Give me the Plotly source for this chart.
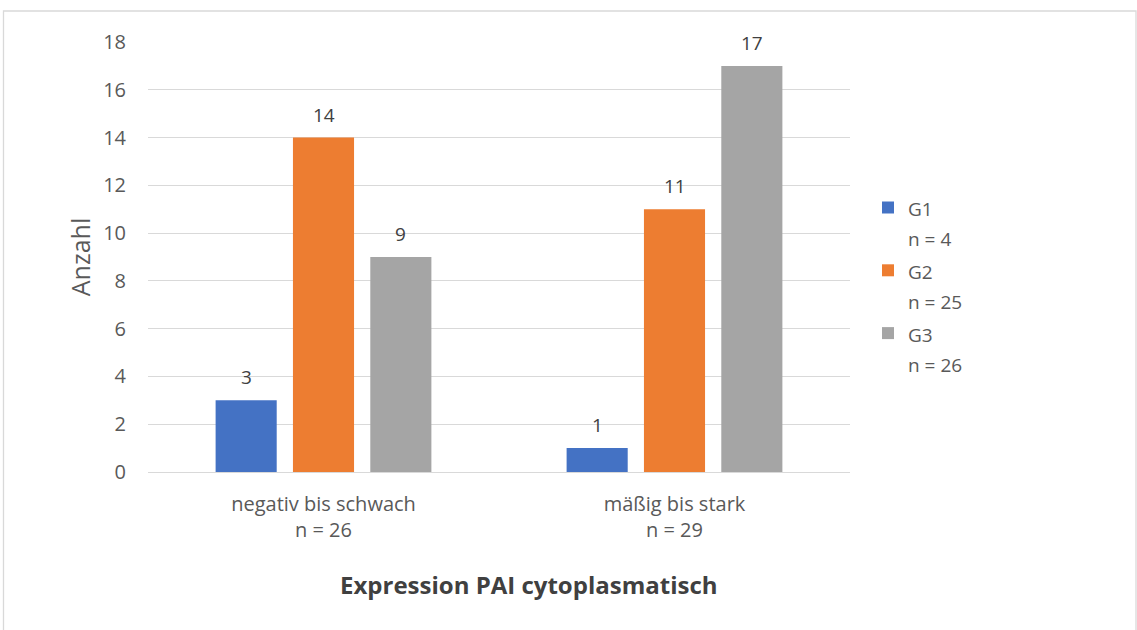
import plotly.graph_objects as go

categories = ["negativ bis schwach<br>n = 26", "mäßig bis stark<br>n = 29"]
series_names = ["G1", "G2", "G3"]
series_n = ["n = 4", "n = 25", "n = 26"]
g1_values = [3, 1]
g2_values = [14, 11]
g3_values = [9, 17]
colors = ["#4472C4", "#ED7D31", "#A5A5A5"]
y_ticks = [0, 2, 4, 6, 8, 10, 12, 14, 16, 18]

FONT = "Open Sans"
W, H = 1137, 630
M_L, M_R, M_T, M_B = 148, 287, 42, 158
BARGAP = 0.339
BARGROUPGAP = 0.21

fig = go.Figure()
all_values = [g1_values, g2_values, g3_values]
for name, n, vals, col in zip(series_names, series_n, all_values, colors):
    fig.add_trace(go.Bar(
        x=categories, y=vals,
        name=(f"<span style='font-size:19px'>{name}</span><br>"
              f"<span style='font-size:19px'>{n}</span>"),
        marker=dict(color=col, line=dict(width=0)),
    ))

# value labels above each bar, offset to its slot in the group
plot_w = W - M_L - M_R
cat_px = plot_w / len(categories)
slot_px = cat_px * (1 - BARGAP) / len(series_names)
for i, vals in enumerate(all_values):
    for cat, v in zip(categories, vals):
        fig.add_annotation(
            x=cat, y=v, text=str(v), showarrow=False,
            xshift=(i - 1) * slot_px, yshift=23, yanchor="middle",
            font=dict(family=FONT, size=19, color="#404040"),
        )

# chart title below the axis
fig.add_annotation(
    xref="paper", yref="paper", x=(529 - M_L) / plot_w, y=-0.262, yanchor="middle",
    text="<b>Expression PAI cytoplasmatisch</b>", showarrow=False,
    font=dict(family=FONT, size=24, color="#404040"),
)

# outer chart frame
fig.add_shape(
    type="rect", xref="paper", yref="paper",
    x0=(3.5 - M_L) / plot_w, x1=(1136 - M_L) / plot_w,
    y0=-0.5, y1=(H - M_B - 11) / (H - M_T - M_B),
    line=dict(color="#D9D9D9", width=1.3), fillcolor="rgba(0,0,0,0)", layer="below",
)

fig.update_layout(
    width=W, height=H,
    margin=dict(l=M_L, r=M_R, t=M_T, b=M_B),
    paper_bgcolor="white", plot_bgcolor="white",
    barmode="group", bargap=BARGAP, bargroupgap=BARGROUPGAP,
    font=dict(family=FONT, size=20, color="#595959"),
    legend=dict(
        x=(868 - M_L) / plot_w, y=0.665, xanchor="left", yanchor="top",
        valign="top", font=dict(size=23, color="#595959"),
        itemwidth=30,
    ),
    xaxis=dict(
        showgrid=False, showline=True, linecolor="#D9D9D9", linewidth=1,
        ticks="", tickfont=dict(size=20, color="#595959"),
        ticklabelstandoff=14,
    ),
    yaxis=dict(
        range=[0, 18], tickvals=y_ticks, showgrid=True, gridcolor="#D9D9D9",
        gridwidth=1, zeroline=False, showline=False, ticks="",
        tickfont=dict(size=20, color="#595959"), ticklabelstandoff=21,
        title=dict(text="Anzahl", font=dict(size=25, color="#595959"), standoff=5),
    ),
)

fig.write_html("out.html")
